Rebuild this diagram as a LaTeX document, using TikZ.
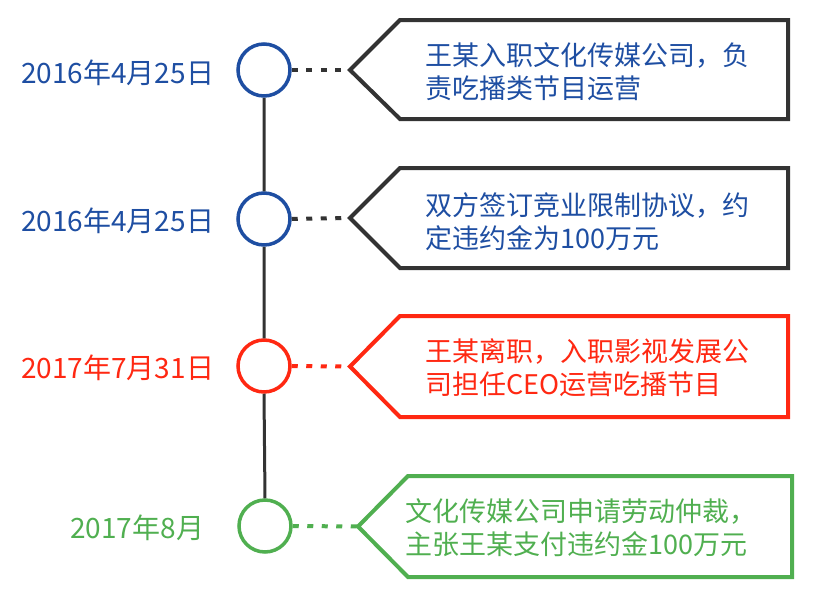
\documentclass[tikz,border=0pt]{standalone}
\usepackage{fontspec}
\setmainfont{Noto Sans CJK SC}
\usepackage{tikz}
\usetikzlibrary{positioning}
\usepackage{xcolor}

\definecolor{tlblue}{RGB}{30,78,162}
\definecolor{tlred}{RGB}{255,40,18}
\definecolor{tlgreen}{RGB}{80,175,80}
\definecolor{tldark}{RGB}{51,51,51}

\tikzset{
  dot/.style={circle, draw=#1, fill=white, line width=3.5pt, minimum size=52pt, inner sep=0pt},
  frame/.style={draw=#1, line width=4pt, line join=miter},
  link/.style={draw=#1, line width=4pt, dash pattern=on 6pt off 8.5pt},
  spine/.style={draw=tldark, line width=3pt},
  datetext/.style={text=#1, inner sep=0pt, font=\fontsize{28}{32}\selectfont},
  eventtext/.style={text=#1, inner sep=0pt, anchor=west, align=left, font=\fontsize{27}{33}\selectfont},
}

\begin{document}
\begin{tikzpicture}[x=1pt, y=-1pt]
  \useasboundingbox (0,0) rectangle (831,597);

  % timeline points
  \node[dot=tlblue]  (c1) at (264,70)  {};
  \node[dot=tlblue]  (c2) at (264,219) {};
  \node[dot=tlred]   (c3) at (264,366) {};
  \node[dot=tlgreen] (c4) at (265,526) {};

  \draw[spine] (c1.south) -- (c2.north)
               (c2.south) -- (c3.north)
               (c3.south) -- (c4.north);

  % dates
  \node[datetext=tlblue,  left=22pt of c1, yshift=-3pt] (d1) {2016年4月25日};
  \node[datetext=tlblue,  left=22pt of c2, yshift=-2pt] (d2) {2016年4月25日};
  \node[datetext=tlred,   left=22pt of c3, yshift=-2pt] (d3) {2017年7月31日};
  \node[datetext=tlgreen, left=33pt of c4, yshift=-2pt] (d4) {2017年8月};

  % callouts
  \coordinate (p1) at (350,70);
  \coordinate (p2) at (350,218);
  \coordinate (p3) at (350,366.5);
  \coordinate (p4) at (358,526.5);

  \draw[frame=tldark]  (p1) -- (400,20)  -- (788,20)  -- (788,119) -- (400,119) -- cycle;
  \draw[frame=tldark]  (p2) -- (400,168) -- (788,168) -- (788,268) -- (400,268) -- cycle;
  \draw[frame=tlred]   (p3) -- (400,316) -- (788,316) -- (788,417) -- (400,417) -- cycle;
  \draw[frame=tlgreen] (p4) -- (408,476) -- (792,476) -- (792,577) -- (408,577) -- cycle;

  \draw[link=tldark]  (c1.east) -- (p1);
  \draw[link=tldark]  (c2.east) -- (p2);
  \draw[link=tlred]   (c3.east) -- (p3);
  \draw[link=tlgreen] (c4.east) -- (p4);

  \node[eventtext=tlblue]  (e1) at (425,71.5)  {王某入职文化传媒公司，负\\责吃播类节目运营};
  \node[eventtext=tlblue]  (e2) at (425,222)   {双方签订竞业限制协议，约\\定违约金为100万元};
  \node[eventtext=tlred]   (e3) at (425,367.5) {王某离职，入职影视发展公\\司担任CEO运营吃播节目};
  \node[eventtext=tlgreen] (e4) at (405,527.5) {文化传媒公司申请劳动仲裁，\\主张王某支付违约金100万元};

\end{tikzpicture}
\end{document}
